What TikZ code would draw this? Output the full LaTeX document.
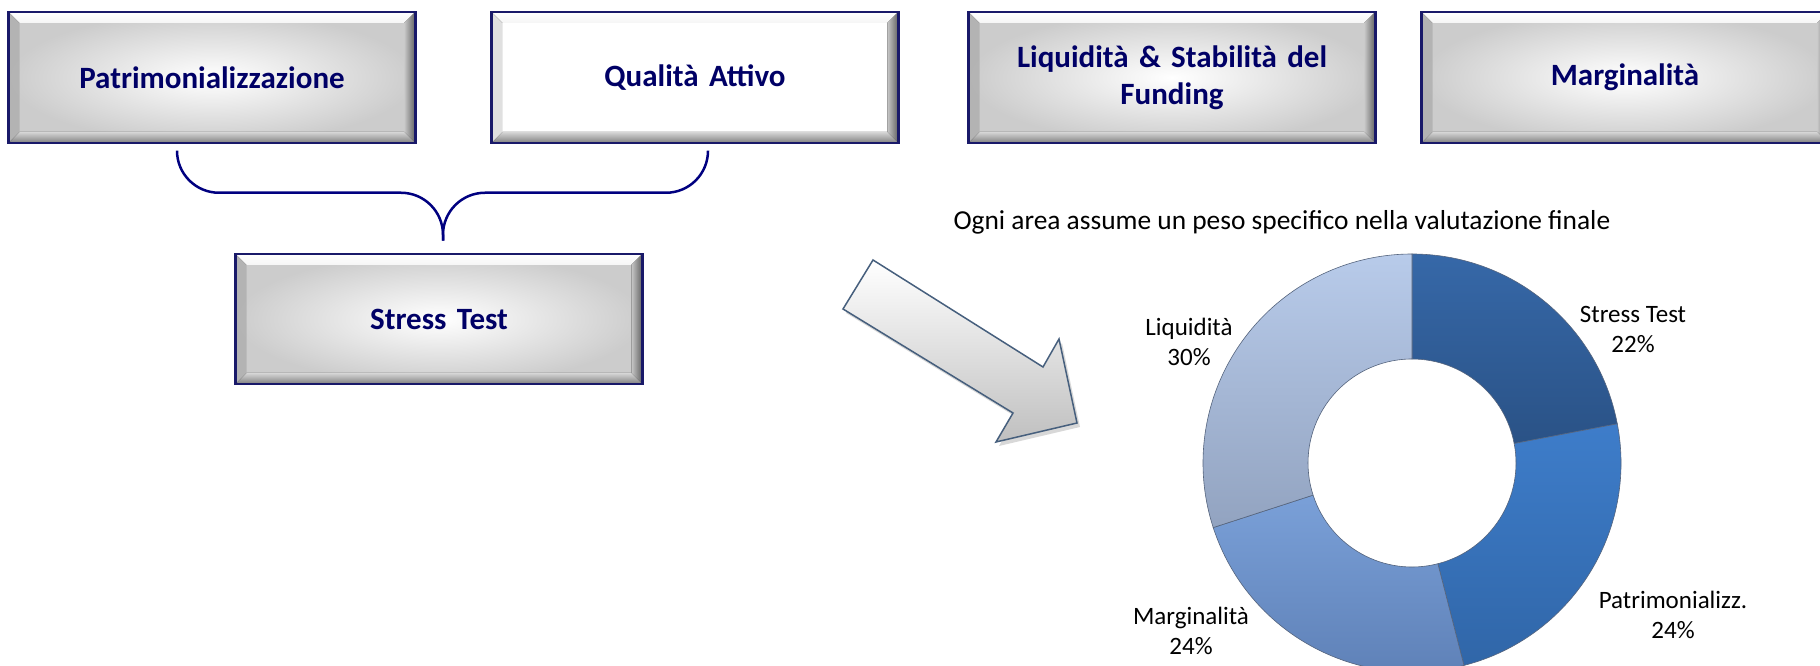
\documentclass[tikz,border=0pt]{standalone}
\usepackage{fontspec}
\setmainfont{Carlito}
\usepackage{tikz}
\usetikzlibrary{shapes.geometric, arrows, shadows}
\definecolor{boxtext}{RGB}{0,0,102}
\definecolor{boxline}{RGB}{25,25,105}
\definecolor{bracecol}{RGB}{0,0,128}
\definecolor{arrowline}{RGB}{70,95,125}
\definecolor{segline}{RGB}{85,100,125}
\tikzstyle{bevel} = [path picture={
    \coordinate (pnw) at (path picture bounding box.north west);
    \coordinate (pne) at (path picture bounding box.north east);
    \coordinate (psw) at (path picture bounding box.south west);
    \coordinate (pse) at (path picture bounding box.south east);
    \fill[top color=white, bottom color=black!4]    (pnw) -- (pne) -- ([shift={(-11pt,-11pt)}]pne) -- ([shift={(11pt,-11pt)}]pnw) -- cycle;
    \fill[black, opacity=.12]                       (pnw) -- (psw) -- ([shift={(11pt,11pt)}]psw) -- ([shift={(11pt,-11pt)}]pnw) -- cycle;
    \fill[left color=black!22, right color=black!62] (pne) -- (pse) -- ([shift={(-11pt,11pt)}]pse) -- ([shift={(-11pt,-11pt)}]pne) -- cycle;
    \fill[top color=black!16, bottom color=black!50] (psw) -- (pse) -- ([shift={(-11pt,11pt)}]pse) -- ([shift={(11pt,11pt)}]psw) -- cycle;
  }]
\tikzstyle{area}      = [rectangle, minimum width=404pt, minimum height=131pt, text width=400pt, text centered, draw=boxline, line width=2.5pt, inner color=white, outer color=black!20, font=\fontsize{31}{37}\selectfont\bfseries, text=boxtext, bevel]
\tikzstyle{arealight} = [area, inner color=white, outer color=white]
\tikzstyle{brace}     = [draw=bracecol, line width=2.5pt, rounded corners=42pt]
\tikzstyle{bigarrow}  = [draw=arrowline, line width=1.5pt, top color=white, middle color=black!8, bottom color=black!25, drop shadow={shadow xshift=3pt, shadow yshift=-4pt, opacity=.3}]
\tikzstyle{seg}       = [draw=segline, line width=.6pt]
\tikzstyle{seglabel}  = [align=center, font=\fontsize{25}{30}\selectfont]

\begin{document}
\begin{tikzpicture}[x=1pt, y=1pt, node distance=483pt]
      \path[use as bounding box, fill=white] (0,0) rectangle (1820,666);
      % Nodes
      %% Areas of the evaluation
      \node (patrimonializzazione)  [area] at (212,588.5)                                  {Patrimonializzazione};
      \node (qualita_attivo)        [arealight, right of=patrimonializzazione]               {Qualità Attivo};
      \node (liquidita_funding)     [area, right of=qualita_attivo, xshift=-6pt]              {Liquidità \& Stabilità del\\Funding};
      \node (marginalita)           [area, right of=liquidita_funding, xshift=-30pt]          {Marginalità};
      %%% Lower branch
      \node (stress_test)           [area, minimum height=130pt, below of=patrimonializzazione, xshift=227pt, yshift=241.5pt] {Stress Test};

      % % Brace
      \coordinate (brace_left)  at ([xshift=-35pt, yshift=-7pt]patrimonializzazione.south);
      \coordinate (brace_right) at ([xshift=13pt, yshift=-7pt]qualita_attivo.south);
      \coordinate (brace_tip)   at ([xshift=4pt, yshift=12pt]stress_test.north);
      \coordinate (brace_mid)   at ([yshift=48pt]brace_tip);
      \draw [brace] (brace_left) |- (brace_mid) -- (brace_tip);
      \draw [brace] (brace_tip) -- (brace_mid) -| (brace_right);

      % % Block arrow towards the chart
      \draw [bigarrow] (873,406) -- (1043,299) -- (1059,327) -- (1077,243) -- (996,224) -- (1013,253) -- (843,357) -- cycle;

      % % Weights chart
      \node (caption_text) [anchor=west, font=\fontsize{27.4}{32}\selectfont] at (950,444) {Ogni area assume un peso specifico nella valutazione finale};
      \coordinate (donut_centre) at (1412,203);
      \draw [seg, shift={(donut_centre)}, top color={rgb,255:red,54;green,104;blue,168}, bottom color={rgb,255:red,42;green,82;blue,134}]
        (90:209) arc[start angle=90, end angle=10.8, radius=209] -- (10.8:104) arc[start angle=10.8, end angle=90, radius=104] -- cycle;
      \draw [seg, shift={(donut_centre)}, top color={rgb,255:red,62;green,125;blue,202}, bottom color={rgb,255:red,48;green,102;blue,168}]
        (10.8:209) arc[start angle=10.8, end angle=-75.6, radius=209] -- (-75.6:104) arc[start angle=-75.6, end angle=10.8, radius=104] -- cycle;
      \draw [seg, shift={(donut_centre)}, top color={rgb,255:red,122;green,160;blue,216}, bottom color={rgb,255:red,92;green,126;blue,180}]
        (-75.6:209) arc[start angle=-75.6, end angle=-162, radius=209] -- (-162:104) arc[start angle=-162, end angle=-75.6, radius=104] -- cycle;
      \draw [seg, shift={(donut_centre)}, top color={rgb,255:red,184;green,203;blue,234}, bottom color={rgb,255:red,146;green,163;blue,192}]
        (-162:209) arc[start angle=-162, end angle=-270, radius=209] -- (-270:104) arc[start angle=-270, end angle=-162, radius=104] -- cycle;

      \node (label_stress)      [seglabel] at ([shift={(221,134)}]donut_centre)   {Stress Test\\22\%};
      \node (label_patrimonio)  [seglabel] at ([shift={(261,-151.5)}]donut_centre) {Patrimonializz.\\24\%};
      \node (label_marginalita) [seglabel] at ([shift={(-221,-168)}]donut_centre)  {Marginalità\\24\%};
      \node (label_liquidita)   [seglabel] at ([shift={(-223,121)}]donut_centre)   {Liquidità\\30\%};
\end{tikzpicture}
\end{document}
